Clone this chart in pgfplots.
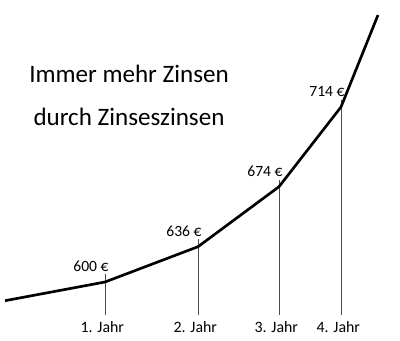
\documentclass[border=0pt]{standalone}
\usepackage{fontspec}
\setmainfont{Carlito}
\usepackage{pgfplots}
\pgfplotsset{compat=1.18}
\usepackage{pgfplotstable}

% Jahr-Position, Hoehe im Diagramm, Kapital am Jahresende
\pgfplotstableread{
x   h     v
105 58    600
198 93.3  636
279 153.3 674
341 233   714
}\kapital

\begin{document}
\begin{tikzpicture}
\useasboundingbox (0,0) rectangle (300pt,255pt);
\begin{axis}[
  at={(0,0)}, anchor=south west,
  scale only axis, width=300pt, height=255pt,
  xmin=0, xmax=400, ymin=0, ymax=340,
  clip=false,
  axis line style={draw=none},
  ytick=\empty,
  xtick={105,198,279,341},
  xticklabels={1. Jahr,2. Jahr,3. Jahr,4. Jahr},
  major tick length=0pt,
  xticklabel style={anchor=base, yshift=6pt, xshift=-2pt, font=\fontsize{11.9}{13}\selectfont, text=black},
]
% Hilfslinien unter den Jahren
\draw[black!70, line width=0.75pt] (axis cs:105,66) -- (axis cs:105,25);
\draw[black!70, line width=0.75pt] (axis cs:198,101) -- (axis cs:198,25);
\draw[black!70, line width=0.75pt] (axis cs:279,160) -- (axis cs:279,25);
\draw[black!70, line width=0.75pt] (axis cs:341,240) -- (axis cs:341,25);

% Kapitalverlauf
\addplot[black, line width=2pt, line join=round] coordinates {
  (5,39.3) (105,58) (198,93.3) (279,153.3) (341,233) (378,325)};

% Beschriftung der Jahreswerte
\addplot[draw=none, mark=none,
  point meta=explicit symbolic,
  nodes near coords={\pgfplotspointmeta~€},
  every node near coord/.append style={anchor=base, xshift=-10.5pt, yshift=7.9pt, font=\fontsize{11.7}{13}\selectfont, text=black},
] table[x=x, y=h, meta=v] {\kapital};

\node[anchor=base, font=\fontsize{18.8}{20}\selectfont, text=black] at (rel axis cs:0.3225,0.7588) {Immer mehr Zinsen};
\node[anchor=base, font=\fontsize{18.8}{20}\selectfont, text=black] at (rel axis cs:0.3225,0.632) {durch Zinseszinsen};
\end{axis}
\end{tikzpicture}
\end{document}
